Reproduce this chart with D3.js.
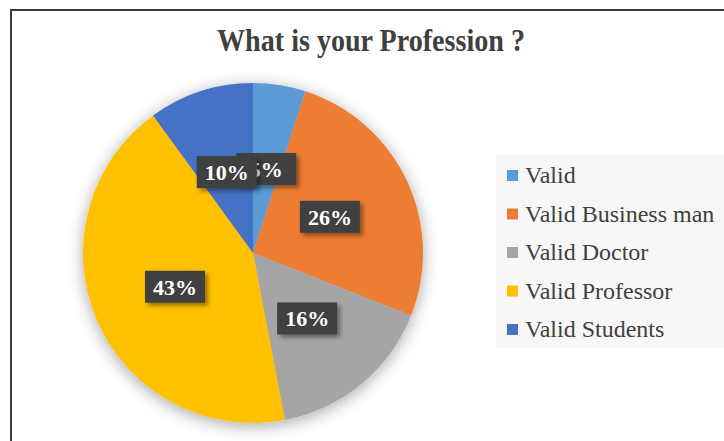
<!DOCTYPE html>
<html><head><meta charset="utf-8">
<script src="https://cdn.jsdelivr.net/npm/d3@7"></script>
<style>body{margin:0;background:#fff}svg{display:block}</style>
</head><body>
<svg id="c" width="724" height="441"></svg>
<script>
const categories = ["Valid", "Valid Business man", "Valid Doctor", "Valid Professor", "Valid Students"];
const values = [5, 26, 16, 43, 10];
const labels = ["5%", "26%", "16%", "43%", "10%"];
const colors = ["#5B9BD5", "#ED7D31", "#A5A5A5", "#FFC000", "#4472C4"];
const title = "What is your Profession ?";

const svg = d3.select("#c");
const defs = svg.append("defs");
const f = defs.append("filter").attr("id","pieShadow").attr("x","-30%").attr("y","-30%").attr("width","160%").attr("height","160%");
f.append("feDropShadow").attr("dx",0).attr("dy",3).attr("stdDeviation",8).attr("flood-color","#000").attr("flood-opacity",0.35);
const f2 = defs.append("filter").attr("id","boxShadow").attr("x","-30%").attr("y","-30%").attr("width","160%").attr("height","160%");
f2.append("feDropShadow").attr("dx",3).attr("dy",3).attr("stdDeviation",2).attr("flood-color","#000").attr("flood-opacity",0.4);

// frame
svg.append("rect").attr("x",11).attr("y",10).attr("width",760).attr("height",460)
  .attr("fill","#fff").attr("stroke","#3a3a3a").attr("stroke-width",2);

svg.append("text").attr("x",371).attr("y",51).attr("text-anchor","middle")
  .attr("font-family","'Liberation Serif','Times New Roman',serif").attr("font-weight","bold")
  .attr("font-size",31).attr("textLength",308).attr("lengthAdjust","spacingAndGlyphs")
  .attr("fill","#404040").text(title);

const cx = 253, cy = 253, r = 170;
const pie = d3.pie().sort(null).value(d=>d)(values);
const arc = d3.arc().innerRadius(0).outerRadius(r);
const labelArc = d3.arc().innerRadius(r*0.5).outerRadius(r*0.5);

const g = svg.append("g").attr("transform",`translate(${cx},${cy})`);
g.append("g").attr("filter","url(#pieShadow)").selectAll("path").data(pie).join("path")
  .attr("d",arc).attr("fill",(d,i)=>colors[i]);

const lg = g.append("g");
pie.forEach((d,i)=>{
  const [x,y] = labelArc.centroid(d);
  const w = 60, h = 32;
  const gg = lg.append("g").attr("transform",`translate(${x},${y})`);
  gg.append("rect").attr("x",-w/2).attr("y",-h/2).attr("width",w).attr("height",h)
    .attr("fill","#404040").attr("filter","url(#boxShadow)");
  gg.append("text").attr("x",0).attr("y",8).attr("text-anchor","middle")
    .attr("font-family","'Liberation Serif','Times New Roman',serif").attr("font-weight","bold")
    .attr("font-size",22).attr("fill","#fff").text(labels[i]);
});

// legend
svg.append("rect").attr("x",496).attr("y",155).attr("width",240).attr("height",193).attr("fill","#f7f7f7");
const leg = svg.append("g").selectAll("g").data(categories).join("g")
  .attr("transform",(d,i)=>`translate(507,${176 + i*38.5})`);
leg.append("rect").attr("x",0).attr("y",-6).attr("width",11).attr("height",11).attr("fill",(d,i)=>colors[i]);
leg.append("text").attr("x",18).attr("y",7)
  .attr("font-family","'Liberation Serif','Times New Roman',serif")
  .attr("font-size",24).attr("fill","#404040").text(d=>d);
</script>
</body></html>
